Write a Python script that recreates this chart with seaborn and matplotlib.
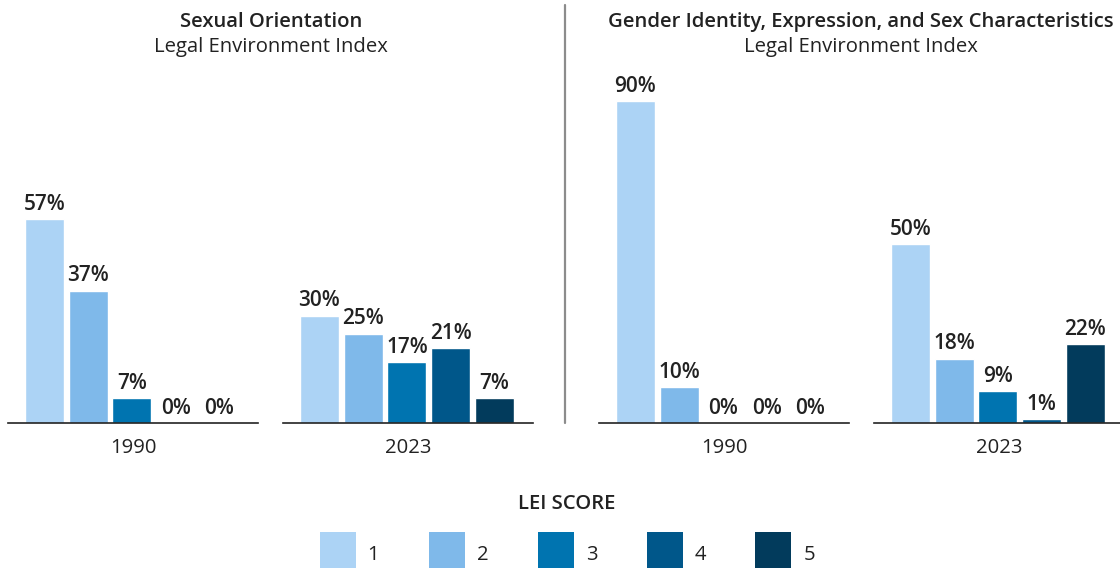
import matplotlib
matplotlib.use("Agg")
import matplotlib.pyplot as plt
from matplotlib.lines import Line2D
import seaborn as sns
import pandas as pd

# LEI scores and share of countries (%) per score
scores = ["1", "2", "3", "4", "5"]
so_1990 = [57, 37, 7, 0, 0]
so_2023 = [30, 25, 17, 21, 7]
gi_1990 = [90, 10, 0, 0, 0]
gi_2023 = [50, 18, 9, 1, 22]
years = ["1990", "2023"]
colors = ["#acd3f5", "#7fb9ea", "#0074b0", "#00578a", "#023b5c"]

sns.set_style("white")
plt.rcParams["font.family"] = ["Open Sans", "DejaVu Sans"]
plt.rcParams["text.color"] = "#222222"

W, H = 1120, 568
fig = plt.figure(figsize=(W / 100, H / 100), dpi=100)

# left edge (px) of each group's axes
groups = [(8, so_1990, years[0]), (283, so_2023, years[1]),
          (599, gi_1990, years[0]), (874, gi_2023, years[1])]
base_y = 423
ax_w = 250
ax_h = 358
fs = 14.6

axes = []
for left, vals, yr in groups:
    ax = fig.add_axes([left / W, (H - base_y) / H, ax_w / W, ax_h / H])
    df = pd.DataFrame({"score": scores, "pct": vals})
    sns.barplot(data=df, x="score", y="pct", hue="score", palette=colors,
                width=0.892, ax=ax, legend=False, saturation=1)
    for c in ax.containers:
        ax.bar_label(c, fmt="{:.0f}%", padding=3, fontsize=15,
                     fontweight="semibold", color="#222222")
    ax.set_xlim(-0.835, 4.885)
    ax.set_ylim(0, 100)
    ax.set_xticks([])
    ax.set_yticks([])
    ax.set_ylabel("")
    ax.set_xlabel(yr, fontsize=fs, labelpad=11, color="#222222")
    for s in ["top", "left", "right"]:
        ax.spines[s].set_visible(False)
    ax.spines["bottom"].set_color("#222222")
    ax.spines["bottom"].set_linewidth(1.2)
    axes.append(ax)

# panel titles
for cx, title in [(271, "Sexual Orientation"),
                  (861, "Gender Identity, Expression, and Sex Characteristics")]:
    fig.text(cx / W, 1 - 27 / H, title, ha="center", va="baseline",
             fontsize=fs, fontweight="semibold")
    fig.text(cx / W, 1 - 52 / H, "Legal Environment Index", ha="center",
             va="baseline", fontsize=fs)

# separator
fig.add_artist(Line2D([565 / W, 565 / W], [1 - 5 / H, 1 - base_y / H],
                      color="#8c8c8c", lw=1.6))

handles = [Line2D([], [], marker="s", linestyle="None", markersize=26.6,
                  markerfacecolor=c, markeredgewidth=0) for c in colors]
leg = fig.legend(handles, scores, loc="upper center", ncol=5,
                 bbox_to_anchor=(567 / W, 1 - 484 / H), frameon=False,
                 title="LEI SCORE", fontsize=fs, handlelength=1.85,
                 handleheight=1.85, handletextpad=0.55, columnspacing=2.4,
                 borderpad=0)
leg.get_title().set_fontweight("semibold")
leg.get_title().set_fontsize(fs)
leg._legend_box.sep = 18

fig.savefig("out.png", dpi=100)
